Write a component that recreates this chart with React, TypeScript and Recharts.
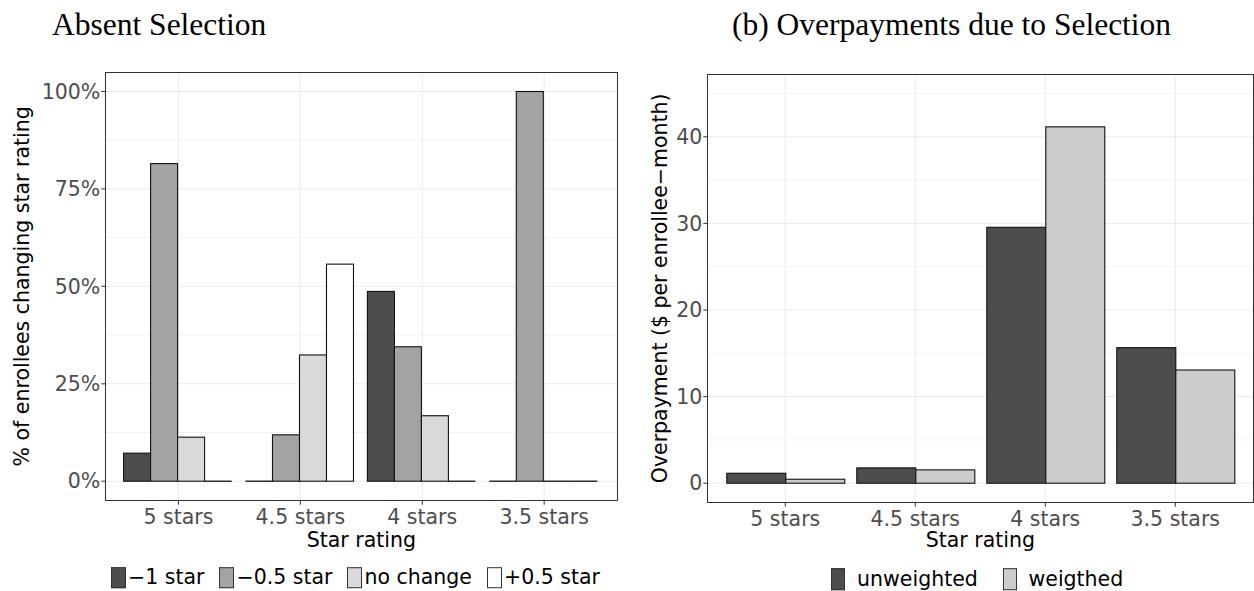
import React from 'react';
import { BarChart, Bar, XAxis, YAxis, CartesianGrid } from 'recharts';

// ---------- data ----------
const categories = ['5 stars', '4.5 stars', '4 stars', '3.5 stars'];

// panel (a): share of enrollees changing star rating (%)
const minusOneStar = [7.2, 0, 48.7, 0];
const minusHalfStar = [81.5, 11.9, 34.5, 100];
const noChange = [11.3, 32.4, 16.8, 0];
const plusHalfStar = [0, 55.7, 0, 0];
const leftSeriesNames = ['−1 star', '−0.5 star', 'no change', '+0.5 star'];
const leftYTicks = [0, 25, 50, 75, 100];
const leftMinorTicks = [12.5, 37.5, 62.5, 87.5];

// panel (b): overpayments ($ per enrollee-month)
const unweighted = [1.15, 1.77, 29.55, 15.65];
const weighted = [0.46, 1.54, 41.15, 13.07];
const rightSeriesNames = ['unweighted', 'weigthed'];
const rightYTicks = [0, 10, 20, 30, 40];
const rightMinorTicks = [5, 15, 25, 35, 45];

// ---------- styling ----------
const FONT = '"DejaVu Sans", sans-serif';
const SERIF = '"Liberation Serif", serif';
const FS = 20.5;
const TICK_COLOR = '#4D4D4D';
const BORDER = '#333333';
const BAR_STROKE = '#111111';
const GRID = '#EBEBEB';
const GRID_MINOR = '#F3F3F3';
const leftFills = ['#4D4D4D', '#A3A3A3', '#D9D9D9', '#FFFFFF'];
const rightFills = ['#4D4D4D', '#CCCCCC'];

const leftData = categories.map((c, i) => ({
  cat: c,
  s0: minusOneStar[i],
  s1: minusHalfStar[i],
  s2: noChange[i],
  s3: plusHalfStar[i],
}));
const rightData = categories.map((c, i) => ({
  cat: c,
  u: unweighted[i],
  w: weighted[i],
}));

const OutlinedBar = (props: any) => {
  const { x, y, width, height, fill } = props;
  if (x == null || y == null || !width) return null;
  if (!height || Math.abs(height) < 0.01) {
    return <line x1={x} x2={x + width} y1={y} y2={y} stroke={BAR_STROKE} strokeWidth={1.3} />;
  }
  return <rect x={x} y={y} width={width} height={height} fill={fill} stroke={BAR_STROKE} strokeWidth={1.1} />;
};

// layout of left chart
const L = { left: 0, width: 630, plotLeft: 105.3, plotRight: 617.3, plotTop: 72, plotBottom: 500.7 };
// layout of right chart
const R = { left: 630, width: 624, plotLeft: 707.3, plotRight: 1253.3, plotTop: 74, plotBottom: 502.7 };
const H = 591;

const tickStyle = { fill: TICK_COLOR, fontSize: FS, fontFamily: FONT };

function Border({ p }: { p: typeof L }) {
  return (
    <div
      style={{
        position: 'absolute',
        left: p.plotLeft - 0.5,
        top: p.plotTop - 0.5,
        width: p.plotRight - p.plotLeft + 1,
        height: p.plotBottom - p.plotTop + 1,
        border: `1px solid ${BORDER}`,
        boxSizing: 'border-box',
        pointerEvents: 'none',
      }}
    />
  );
}

function LegendItem({ fill, label, keyW, gapAfterKey, marginRight }: any) {
  return (
    <div style={{ display: 'flex', alignItems: 'center', marginRight }}>
      <div
        style={{
          width: keyW,
          height: 21.6,
          background: fill,
          border: `1px solid ${BORDER}`,
          boxSizing: 'border-box',
          marginRight: gapAfterKey,
        }}
      />
      <span style={{ fontFamily: FONT, fontSize: FS, color: '#000', whiteSpace: 'nowrap', lineHeight: 1 }}>{label}</span>
    </div>
  );
}

export default function App() {
  const leftBand = (L.plotRight - L.plotLeft) / 4.2;
  const leftPad = leftBand * 0.1;
  const rightBand = (R.plotRight - R.plotLeft) / 4.2;
  const rightPad = rightBand * 0.1;
  const leftKeys = ['s0', 's1', 's2', 's3'];
  const rightKeys = ['u', 'w'];

  return (
    <div
      style={{
        position: 'absolute',
        left: 0,
        top: 0,
        width: 1254,
        height: H,
        overflow: 'hidden',
        background: '#fff',
        fontFamily: FONT,
      }}
    >
      {/* titles */}
      <div style={{ position: 'absolute', left: 52, top: 9, fontFamily: SERIF, fontSize: 31.5, lineHeight: 1, color: '#000', whiteSpace: 'nowrap' }}>
        Absent Selection
      </div>
      <div style={{ position: 'absolute', left: 732, top: 9, fontFamily: SERIF, fontSize: 31.5, lineHeight: 1, color: '#000', whiteSpace: 'nowrap' }}>
        (b) Overpayments due to Selection
      </div>

      {/* left chart */}
      <div style={{ position: 'absolute', left: L.left, top: 0 }}>
        <BarChart
          width={L.width}
          height={H}
          data={leftData}
          margin={{ top: L.plotTop, right: L.width - L.plotRight, bottom: 0, left: 0 }}
          barCategoryGap={leftPad * 0.5}
          barGap={0}
        >
          <CartesianGrid stroke={GRID_MINOR} vertical={false} horizontalValues={leftMinorTicks} />
          <CartesianGrid stroke={GRID} horizontalValues={leftYTicks} />
          <XAxis
            dataKey="cat"
            type="category"
            height={H - L.plotBottom}
            padding={{ left: leftPad, right: leftPad }}
            axisLine={false}
            tickLine={{ stroke: BORDER }}
            tickSize={4}
            tickMargin={4.7}
            tick={tickStyle}
            interval={0}
            label={{ value: 'Star rating', position: 'insideBottom', offset: 44.3, fill: '#000', fontSize: FS, fontFamily: FONT }}
          />
          <YAxis
            type="number"
            domain={[-5, 105]}
            ticks={leftYTicks}
            width={L.plotLeft}
            axisLine={false}
            tickLine={{ stroke: BORDER }}
            tickSize={4}
            tickMargin={1}
            tick={tickStyle}
            tickFormatter={(v: number) => `${v}%`}
            label={{
              value: '% of enrollees changing star rating',
              angle: -90,
              position: 'insideLeft',
              offset: 22.2,
              fill: '#000',
              fontSize: FS,
              fontFamily: FONT,
              style: { textAnchor: 'middle' },
            }}
          />
          {leftKeys.map((k, i) => (
            <Bar key={k} dataKey={k} name={leftSeriesNames[i]} fill={leftFills[i]} shape={OutlinedBar} isAnimationActive={false} />
          ))}
        </BarChart>
      </div>
      <Border p={L} />

      {/* right chart */}
      <div style={{ position: 'absolute', left: R.left, top: 0 }}>
        <BarChart
          width={R.width}
          height={H}
          data={rightData}
          margin={{ top: R.plotTop, right: R.left + R.width - R.plotRight, bottom: 0, left: 0 }}
          barCategoryGap={rightPad * 0.5}
          barGap={0}
        >
          <CartesianGrid stroke={GRID_MINOR} vertical={false} horizontalValues={rightMinorTicks} />
          <CartesianGrid stroke={GRID} horizontalValues={rightYTicks} />
          <XAxis
            dataKey="cat"
            type="category"
            height={H - R.plotBottom}
            padding={{ left: rightPad, right: rightPad }}
            axisLine={false}
            tickLine={{ stroke: BORDER }}
            tickSize={4}
            tickMargin={4.4}
            tick={tickStyle}
            interval={0}
            label={{ value: 'Star rating', position: 'insideBottom', offset: 44, fill: '#000', fontSize: FS, fontFamily: FONT }}
          />
          <YAxis
            type="number"
            domain={[-2.25, 47.25]}
            ticks={rightYTicks}
            width={R.plotLeft - R.left}
            axisLine={false}
            tickLine={{ stroke: BORDER }}
            tickSize={4}
            tickMargin={1}
            tick={tickStyle}
            label={{
              value: 'Overpayment ($ per enrollee−month)',
              angle: -90,
              position: 'insideLeft',
              offset: 29.7,
              fill: '#000',
              fontSize: FS,
              fontFamily: FONT,
              style: { textAnchor: 'middle' },
            }}
          />
          {rightKeys.map((k, i) => (
            <Bar key={k} dataKey={k} name={rightSeriesNames[i]} fill={rightFills[i]} shape={OutlinedBar} isAnimationActive={false} />
          ))}
        </BarChart>
      </div>
      <Border p={R} />

      {/* left legend */}
      <div style={{ position: 'absolute', left: 111, top: 577.5, transform: 'translateY(-50%)', display: 'flex', alignItems: 'center' }}>
        {leftSeriesNames.map((n, i) => (
          <LegendItem key={n} fill={leftFills[i]} label={n} keyW={15} gapAfterKey={2} marginRight={15} />
        ))}
      </div>

      {/* right legend */}
      <div style={{ position: 'absolute', left: 831.4, top: 579, transform: 'translateY(-50%)', display: 'flex', alignItems: 'center' }}>
        {rightSeriesNames.map((n, i) => (
          <LegendItem key={n} fill={rightFills[i]} label={n} keyW={14} gapAfterKey={11.7} marginRight={25} />
        ))}
      </div>
    </div>
  );
}
